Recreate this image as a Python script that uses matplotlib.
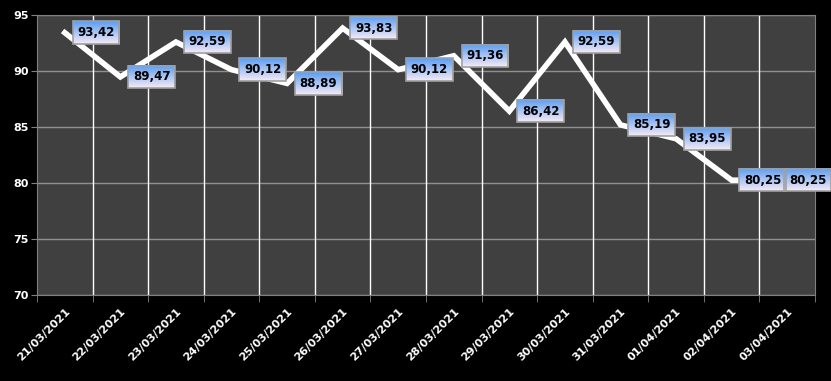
import matplotlib.pyplot as plt
import numpy as np

dates = ['21/03/2021', '22/03/2021', '23/03/2021', '24/03/2021', '25/03/2021',
         '26/03/2021', '27/03/2021', '28/03/2021', '29/03/2021', '30/03/2021',
         '31/03/2021', '01/04/2021', '02/04/2021', '03/04/2021']
values = [93.42, 89.47, 92.59, 90.12, 88.89, 93.83, 90.12, 91.36, 86.42, 92.59,
          85.19, 83.95, 80.25, 80.25]

fig = plt.figure(figsize=(8.31, 3.81), dpi=100, facecolor='black')
ax = fig.add_axes([37/831, 1-295/381, (815-37)/831, 280/381])
ax.set_facecolor('#404040')

x = np.arange(len(dates))
ax.plot(x, values, color='white', lw=4, solid_joinstyle='miter', zorder=3)

ax.set_xlim(-0.5, len(dates) - 0.5)
ax.set_ylim(70, 95)
ax.set_yticks([70, 75, 80, 85, 90, 95])
ax.set_yticklabels(['70', '75', '80', '85', '90', '95'], color='white',
                   fontweight='bold', fontsize=8)
ax.set_xticks(x)
ax.set_xticklabels(dates, rotation=45, ha='right', rotation_mode='anchor',
                   color='white', fontweight='bold', fontsize=8)
ax.tick_params(axis='x', length=0, pad=8)
ax.set_xticks(np.arange(-0.5, len(dates)), minor=True)
ax.tick_params(axis='x', which='minor', length=5, color='#808080')
ax.tick_params(axis='y', length=4, color='#808080', pad=2)
ax.grid(axis='y', color='#909090', lw=1)
for b in np.arange(0.5, len(dates) - 0.5):
    ax.axvline(b, color='white', lw=1, zorder=1)
for s in ax.spines.values():
    s.set_color('#808080')
ax.set_axisbelow(True)

texts = []
for i, (xi, v) in enumerate(zip(x, values)):
    off = 9 if i < len(values) - 1 else 1.2
    t = ax.annotate(f'{v:.2f}'.replace('.', ','), (xi, v), xytext=(off, 0),
                    textcoords='offset points', ha='left', va='center',
                    fontsize=8.5, fontweight='bold',
                    color='black', zorder=6, annotation_clip=False,
                    bbox=dict(boxstyle='square,pad=0.4', fc='none',
                              ec='#a0a0a0', lw=1.2))
    texts.append(t)

# gradient fill behind the labels
fig.canvas.draw()
grad = np.linspace(0, 1, 50).reshape(-1, 1)
top = np.array([0.35, 0.62, 0.96])
bot = np.array([0.96, 0.92, 0.97])
img = top + (bot - top) * grad[:, :, None]
inv = ax.transData.inverted()
for t in texts:
    bb = t.get_bbox_patch().get_window_extent()
    (x0, y0), (x1, y1) = inv.transform([(bb.x0, bb.y0), (bb.x1, bb.y1)])
    im = ax.imshow(img, extent=(x0, x1, y0, y1), aspect='auto', zorder=5,
                   origin='upper', interpolation='bilinear')
    im.set_clip_on(False)

ax.set_xlim(-0.5, len(dates) - 0.5)
ax.set_ylim(70, 95)

plt.savefig('out.png', facecolor='black')
